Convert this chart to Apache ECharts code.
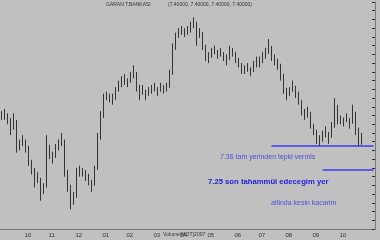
<!DOCTYPE html>
<html><head><meta charset="utf-8">
<script src="https://cdn.jsdelivr.net/npm/echarts@6/dist/echarts.min.js"></script>
<style>html,body{margin:0;padding:0;background:#c0c0c0}#c{width:380px;height:240px}</style>
</head><body><div id="c"></div>
<script>
const closes = [7.499,7.503,7.489,7.435,7.480,7.352,7.366,7.389,7.361,7.297,7.260,7.196,7.215,7.141,7.169,7.366,7.334,7.306,7.343,7.361,
7.389,7.251,7.183,7.091,7.123,7.228,7.242,7.242,7.233,7.205,7.178,7.251,7.389,7.489,7.572,7.590,7.581,7.572,7.609,7.636,
7.654,7.664,7.654,7.673,7.700,7.641,7.595,7.618,7.590,7.609,7.618,7.627,7.609,7.627,7.618,7.627,7.686,7.801,7.856,7.883,
7.893,7.883,7.893,7.902,7.929,7.856,7.883,7.824,7.778,7.764,7.792,7.801,7.778,7.787,7.773,7.755,7.801,7.792,7.764,7.741,
7.709,7.709,7.718,7.700,7.728,7.746,7.746,7.764,7.783,7.819,7.778,7.755,7.737,7.691,7.627,7.595,7.609,7.636,7.609,7.572,
7.526,7.503,7.517,7.462,7.435,7.398,7.389,7.407,7.425,7.398,7.444,7.549,7.489,7.480,7.471,7.489,7.462,7.517,7.444,7.366,7.398];
const highs = [7.52,7.53,7.51,7.47,7.51,7.38,7.39,7.41,7.38,7.33,7.28,7.22,7.24,7.17,7.19,7.41,7.36,7.33,7.37,7.39,
7.42,7.28,7.21,7.12,7.15,7.26,7.27,7.26,7.25,7.23,7.20,7.27,7.42,7.52,7.60,7.61,7.60,7.60,7.63,7.66,
7.68,7.69,7.67,7.70,7.73,7.67,7.62,7.64,7.61,7.63,7.64,7.65,7.63,7.65,7.64,7.65,7.71,7.83,7.88,7.90,
7.91,7.90,7.91,7.93,7.95,7.89,7.90,7.85,7.80,7.79,7.81,7.82,7.80,7.81,7.79,7.78,7.82,7.81,7.79,7.76,
7.73,7.73,7.74,7.72,7.75,7.77,7.77,7.79,7.81,7.85,7.80,7.78,7.76,7.72,7.65,7.62,7.63,7.66,7.63,7.60,
7.55,7.53,7.54,7.49,7.46,7.42,7.41,7.43,7.45,7.42,7.47,7.58,7.51,7.50,7.49,7.51,7.48,7.55,7.47,7.39,7.42];
const lows = [7.48,7.48,7.46,7.41,7.45,7.33,7.34,7.36,7.33,7.27,7.23,7.17,7.19,7.11,7.14,7.31,7.30,7.28,7.32,7.34,
7.36,7.22,7.15,7.07,7.10,7.20,7.22,7.22,7.20,7.18,7.15,7.22,7.35,7.46,7.55,7.57,7.56,7.55,7.59,7.61,
7.63,7.64,7.63,7.65,7.67,7.61,7.57,7.60,7.57,7.59,7.60,7.61,7.59,7.61,7.60,7.61,7.66,7.77,7.83,7.86,
7.87,7.86,7.87,7.88,7.90,7.82,7.86,7.80,7.75,7.74,7.77,7.78,7.76,7.77,7.75,7.73,7.78,7.77,7.74,7.72,
7.69,7.69,7.70,7.68,7.71,7.72,7.72,7.74,7.76,7.79,7.75,7.73,7.71,7.66,7.60,7.57,7.59,7.61,7.58,7.55,
7.50,7.48,7.49,7.44,7.41,7.37,7.36,7.38,7.40,7.37,7.42,7.51,7.46,7.46,7.45,7.47,7.44,7.49,7.41,7.36,7.37];
const totalBars = 125;
const labelIndex = [7,15,24,33,41,50,59,68,77,85,94,103,112];
const tickLabels = ['10','11','12','01','02','03','04','05','06','07','08','09','10'];
const levels = [7.36, 7.25];
const levelStart = [90, 107];

const cats = [];
for (let i = 0; i < totalBars; i++) cats.push(String(i));
const ohlc = closes.map((c, i) => {
  const o = i > 0 ? closes[i - 1] : c;
  return [o, c, Math.min(lows[i], o, c), Math.max(highs[i], o, c)];
});
const labelMap = {};
labelIndex.forEach((ix, k) => { labelMap[ix] = tickLabels[k]; });

const chart = echarts.init(document.getElementById('c'), null, {renderer: 'canvas'});
chart.setOption({
  backgroundColor: '#c0c0c0',
  animation: false,
  grid: {left: 0, right: 5, top: 2, bottom: 11},
  xAxis: [{
    type: 'category', data: cats, boundaryGap: true,
    axisLine: {lineStyle: {color: '#7a7a7a', width: 1}},
    axisTick: {interval: 2, length: 2, lineStyle: {color: '#555'}},
    axisLabel: {show: false}, splitLine: {show: false}
  }, {
    type: 'category', data: cats, boundaryGap: true, position: 'bottom',
    axisLine: {show: false},
    axisTick: {alignWithLabel: true, length: 8, interval: (i) => labelMap[i] !== undefined, lineStyle: {color: '#555'}},
    axisLabel: {interval: (i) => labelMap[i] !== undefined, formatter: (v, i) => labelMap[i] || '',
      fontSize: 6, color: '#333', align: 'left', margin: 3, padding: [0,0,0,2], fontFamily: 'Liberation Sans'},
    splitLine: {show: false}
  }],
  yAxis: {
    type: 'value', position: 'right', offset: 0, min: 6.98, max: 8.02, interval: 0.04, scale: true,
    axisLine: {show: true, lineStyle: {color: '#7a7a7a'}},
    axisTick: {show: true, inside: true, length: 3, lineStyle: {color: '#333'}},
    axisLabel: {show: false}, splitLine: {show: false}
  },
  series: [{
    type: 'candlestick', data: ohlc, barWidth: 1.2,
    itemStyle: {color: '#111', color0: '#111', borderColor: '#111', borderColor0: '#111', borderWidth: 0.8},
    markLine: {
      silent: true, symbol: ['none', 'none'], label: {show: false},
      lineStyle: {color: '#3c3cf0', width: 1.5, type: 'solid'},
      data: levels.map((lv, k) => [{coord: [levelStart[k], lv]}, {coord: [totalBars - 1, lv]}])
    }
  }],
  graphic: [
    {type: 'text', left: 106, top: 2, style: {text: 'GARAN T.BANKASI', fontSize: 5, fill: '#333', fontFamily: 'Liberation Sans'}},
    {type: 'text', left: 168, top: 2, style: {text: '(7.40000, 7.40000, 7.40000, 7.40000)', fontSize: 5, fill: '#333', fontFamily: 'Liberation Sans'}},
    {type: 'text', left: 163, top: 232, style: {text: 'Volume(MOT)2007', fontSize: 5, fill: '#333', fontFamily: 'Liberation Sans'}},
    {type: 'text', left: 220, top: 154, style: {text: '7.36 tam yerinden tepki vermis', fontSize: 7, fill: '#5050d8', fontFamily: 'Liberation Sans'}},
    {type: 'text', left: 208, top: 178, style: {text: '7.25 son tahammül edecegim yer', fontSize: 7.7, fontWeight: 'bold', fill: '#2020e0', fontFamily: 'Liberation Sans'}},
    {type: 'text', left: 271, top: 200, style: {text: 'altinda kesin kacarim', fontSize: 7, fill: '#5050d8', fontFamily: 'Liberation Sans'}}
  ]
});
</script></body></html>
